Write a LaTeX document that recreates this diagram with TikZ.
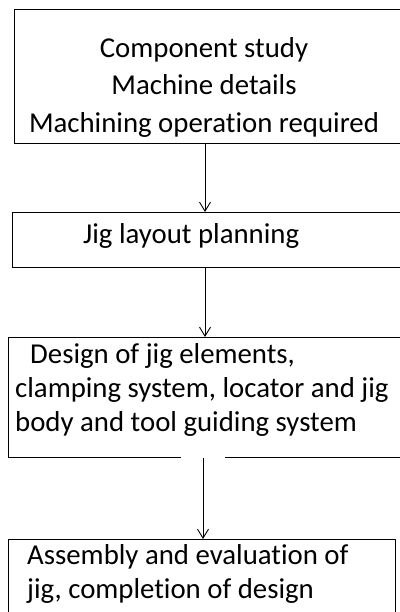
\documentclass[tikz,border=0pt]{standalone}
\usepackage{fontspec}
\setmainfont{Carlito}[Ligatures=NoCommon]
\usetikzlibrary{arrows.meta}
\begin{document}
\begin{tikzpicture}[x=1pt,y=-1pt,
  box/.style={draw, line width=1.4pt, inner sep=0pt, anchor=north west},
  txt/.style={inner sep=0pt, font=\fontsize{28.8}{37.5}\selectfont},
  arr/.style={line width=0.9pt, -{Straight Barb[length=9pt,width=11pt]}}]
\useasboundingbox (0,0) rectangle (399,612);
% boxes
\node[box, minimum width=400pt, minimum height=134pt] (b1) at (14,9) {};
\node[box, minimum width=400pt, minimum height=55pt] (b2) at (12,212) {};
\node[box, minimum width=400pt, minimum height=120pt] (b3) at (8,337) {};
\node[box, minimum width=387pt, minimum height=100pt] (b4) at (8,539) {};
% gap in the bottom border of the third box
\coordinate (g1) at (181,0);
\coordinate (g2) at (225,0);
\draw[white, line width=2.2pt] (b3.south -| g1) -- (b3.south -| g2);
% texts
\node[txt, align=center] (t1) at (204,87) {Component study\\Machine details\\Machining operation required};
\node[txt, anchor=base west] (t2) at (83,243) {Jig layout planning};
\node[txt, align=left, anchor=north west, font=\fontsize{28.8}{34}\selectfont] (t3) at (15,343)
  {\hspace*{15pt}Design of jig elements,\\clamping system, locator and jig\\body and tool guiding system};
\node[txt, align=left, anchor=north west, font=\fontsize{28.8}{34}\selectfont] (t4) at (27,544)
  {Assembly and evaluation of\\jig, completion of design};
% connectors
\coordinate (c1) at (205,0);
\coordinate (c3) at (203,0);
\draw[arr] (b1.south -| c1) -- (b2.north -| c1);
\draw[arr] (b2.south -| c1) -- (b3.north -| c1);
\draw[arr] (b3.south -| c3) -- (b4.north -| c3);
\end{tikzpicture}
\end{document}
